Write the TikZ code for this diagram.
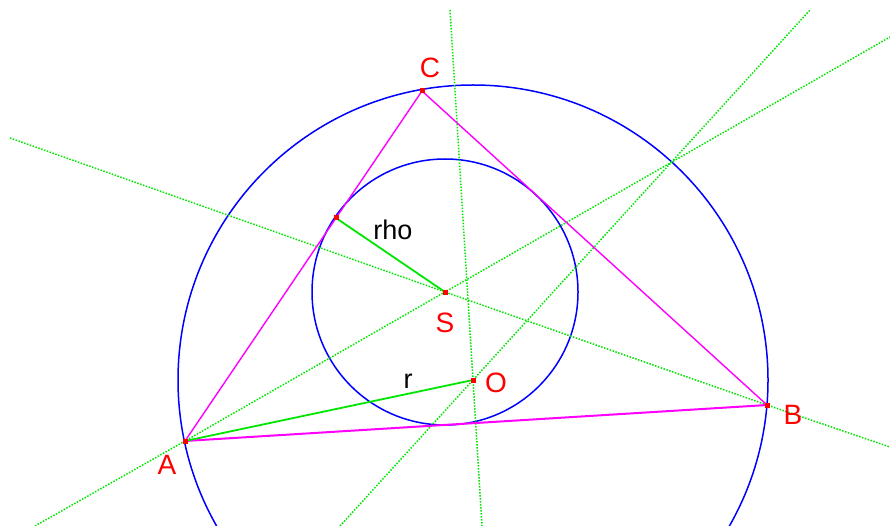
\documentclass[tikz,border=0pt]{standalone}
\usepackage{fontspec}
\setmainfont{Liberation Sans}
\usetikzlibrary{calc}
\definecolor{lineMagenta}{RGB}{255,0,255}
\definecolor{circBlue}{RGB}{0,0,255}
\definecolor{auxGreen}{RGB}{0,230,0}
\definecolor{ptRed}{RGB}{255,0,0}
\tikzset{
  side/.style={draw=lineMagenta,line width=1.4pt},
  circ/.style={draw=circBlue,line width=1.5pt},
  bisector/.style={draw=auxGreen,line width=1.5pt,dash pattern=on 1.5pt off 1.5pt},
  radius/.style={draw=auxGreen,line width=1.8pt},
  pt/.style={fill=ptRed,minimum size=5pt,inner sep=0pt},
  ptlabel/.style={text=ptRed,font=\fontsize{28}{32}\selectfont},
  txtlabel/.style={text=black,font=\fontsize{27}{32}\selectfont}
}
\begin{document}
\begin{tikzpicture}[x=1pt,y=-1pt]
\useasboundingbox (0,0) rectangle (890,526);
\clip (0,0) rectangle (890,526);
% points
\coordinate (A) at (185,441);
\coordinate (B) at (767,405);
\coordinate (C) at (422,91);
\coordinate (O) at (473,380);
\coordinate (S) at (445,292);
\coordinate (H) at (336,218);
% free ends of the dotted lines
\coordinate (b1) at (10,138);   \coordinate (b2) at (890,447);
\coordinate (a1) at (35,526);   \coordinate (a2) at (890,37);
\coordinate (m1) at (450,10);   \coordinate (m2) at (482,526);
\coordinate (n1) at (340,526);  \coordinate (n2) at (810,10);
% circles
\draw[circ] (O) circle (295);
\draw[circ] (S) circle (133);
% dotted lines
\draw[bisector] (b1) -- (S) -- (B) -- (b2);
\draw[bisector] (a1) -- (A) -- (S) -- (a2);
\draw[bisector] (m1) -- (O) -- (m2);
\draw[bisector] (n1) -- (O) -- (n2);
% triangle
\draw[side] (A) -- (C) -- (B);
\draw[side,line width=2pt] (A) -- (B);
% radii
\draw[radius] (A) -- (O);
\draw[radius] (H) -- (S);
% markers
\foreach \p in {A,B,C,O,S,H}
  \node[pt] (m\p) at (\p) {};
% labels
\node[ptlabel] (lA) at (167,465) {A};
\node[ptlabel] (lB) at (793,415) {B};
\node[ptlabel] (lC) at (430,68) {C};
\node[ptlabel] (lS) at (445,323) {S};
\node[ptlabel] (lO) at (496,383) {O};
\node[txtlabel] (lrho) at (393,230) {rho};
\node[txtlabel] (lr) at (408,381) {r};
\end{tikzpicture}
\end{document}
